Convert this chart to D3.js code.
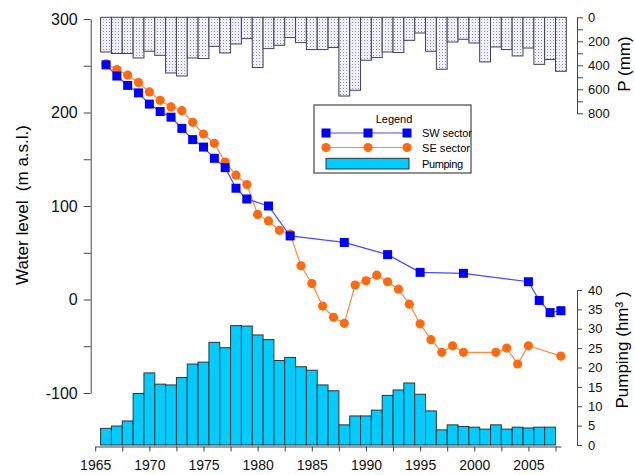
<!DOCTYPE html>
<html>
<head>
<meta charset="utf-8">
<script src="https://cdn.jsdelivr.net/npm/d3@7"></script>
<style>
  body { margin: 0; background: #fff; }
  svg { font-family: "Liberation Sans", Arial, sans-serif; }
  .axis path, .axis line { stroke: #444; }
  .axis text { fill: #111; }
</style>
</head>
<body>
<script>
// years for precipitation and pumping bars
const pYears = d3.range(1966, 2009);
const precip = [289, 302, 302, 339, 283, 317, 464, 489, 339, 344, 242, 297, 222, 178, 419,
  261, 233, 169, 211, 269, 269, 252, 656, 608, 358, 336, 289, 294, 192, 131, 283, 433, 206,
  183, 214, 372, 247, 269, 322, 256, 392, 352, 450];

const pumpYears = d3.range(1966, 2008);
const pumping = [4.3, 4.9, 6.2, 13.3, 18.6, 15.7, 15.5, 17.4, 20.9, 21.4, 26.5, 25.1, 30.8,
  30.7, 28.4, 27.2, 21.8, 22.6, 20.2, 19.3, 15.5, 14.0, 5.2, 7.5, 7.5, 9.0, 12.8, 14.2, 16.0,
  13.1, 8.8, 3.9, 5.2, 4.8, 4.6, 4.1, 5.2, 4.1, 4.6, 4.4, 4.6, 4.6];

// SW sector water level
const swYears = [1966, 1967, 1968, 1969, 1970, 1971, 1972, 1973, 1974, 1975, 1976, 1977,
  1978, 1979, 1981, 1983, 1988, 1992, 1995, 1999, 2005, 2006, 2007, 2008];
const swLevel = [251, 239, 229, 221, 209, 201, 195, 183, 171, 163, 151, 141, 119, 107.5,
  100, 68, 61, 48, 29, 28, 19, -1, -14, -12];

// SE sector water level
const seYears = [1966, 1967, 1968, 1969, 1970, 1971, 1972, 1973, 1974, 1975, 1976, 1977,
  1978, 1979, 1980, 1981, 1982, 1983, 1984, 1985, 1986, 1987, 1988, 1989, 1990, 1991, 1992,
  1993, 1994, 1995, 1996, 1997, 1998, 1999, 2002, 2003, 2004, 2005, 2008];
const seLevel = [252, 246, 240, 232, 222, 213, 206, 202, 189.5, 177, 167, 147, 133, 123, 91,
  84, 74, 70, 36, 17, -7, -19, -25.5, 15.5, 20, 26, 19, 11, -5, -26, -43, -56.5, -49.5,
  -56.5, -56.5, -52, -69, -49.5, -60.5];

const width = 635, height = 475;

const svg = d3.select("body").append("svg")
  .attr("width", width)
  .attr("height", height);

// dotted fill for the precipitation bars
const pat = svg.append("defs").append("pattern")
  .attr("id", "dots")
  .attr("patternUnits", "userSpaceOnUse")
  .attr("width", 3).attr("height", 3);
pat.append("rect").attr("width", 3).attr("height", 3).attr("fill", "#f1f1ff");
pat.append("rect").attr("x", 1).attr("y", 1).attr("width", 1).attr("height", 1).attr("fill", "#8f8fe8");

// scales
const x = d3.scaleLinear().domain([1965, 2008]).range([95.2, 560.9]);
const yW = d3.scaleLinear().domain([-100, 300]).range([393, 19]);
const yPump = d3.scaleLinear().domain([0, 40]).range([445, 290]);
const yP = d3.scaleLinear().domain([0, 800]).range([17.3, 113.3]);

// precipitation bars hanging from the top
svg.append("g").selectAll("rect")
  .data(precip)
  .join("rect")
  .attr("x", (d, i) => x(pYears[i] - 0.5))
  .attr("width", x(1) - x(0))
  .attr("y", yP(0))
  .attr("height", d => yP(d) - yP(0))
  .attr("fill", "url(#dots)")
  .attr("stroke", "#444")
  .attr("stroke-width", 1);

// pumping bars
svg.append("g").selectAll("rect")
  .data(pumping)
  .join("rect")
  .attr("x", (d, i) => x(pumpYears[i] - 0.5))
  .attr("width", x(1) - x(0))
  .attr("y", d => yPump(d))
  .attr("height", d => yPump(0) - yPump(d))
  .attr("fill", "#00ccff")
  .attr("stroke", "#333")
  .attr("stroke-width", 1);

// axes
svg.append("g")
  .attr("class", "axis")
  .attr("transform", "translate(90.7,0)")
  .call(d3.axisLeft(yW)
    .tickValues(d3.range(-100, 301, 50))
    .tickFormat(d => d % 100 === 0 ? d : "")
    .tickSize(7).tickSizeOuter(0).tickPadding(6))
  .call(g => g.selectAll("text").attr("font-size", 16));

svg.append("g")
  .attr("class", "axis")
  .attr("transform", "translate(0,446.5)")
  .call(d3.axisBottom(x)
    .tickValues(d3.range(1965, 2008, 2.5))
    .tickFormat(d => d % 5 === 0 ? d : "")
    .tickSize(5).tickSizeOuter(0).tickPadding(9))
  .call(g => g.selectAll("text").attr("font-size", 14));

svg.append("g")
  .attr("class", "axis")
  .attr("transform", "translate(577,0)")
  .call(d3.axisRight(yP)
    .tickValues(d3.range(0, 801, 100))
    .tickFormat(d => d % 200 === 0 ? d : "")
    .tickSize(6).tickSizeOuter(0).tickPadding(5))
  .call(g => g.selectAll("text").attr("font-size", 13));

svg.append("g")
  .attr("class", "axis")
  .attr("transform", "translate(577,0)")
  .call(d3.axisRight(yPump)
    .tickValues(d3.range(0, 41, 5))
    .tickSize(5).tickSizeOuter(0).tickPadding(6))
  .call(g => g.selectAll("text").attr("font-size", 13));

// water level lines
const line = d3.line().x(d => x(d[0])).y(d => yW(d[1]));
const seData = seYears.map((yr, i) => [yr, seLevel[i]]);
const swData = swYears.map((yr, i) => [yr, swLevel[i]]);

svg.append("path")
  .datum(seData)
  .attr("d", line)
  .attr("fill", "none")
  .attr("stroke", "#ff8a40")
  .attr("stroke-width", 1.2);
svg.append("g").selectAll("circle")
  .data(seData)
  .join("circle")
  .attr("cx", d => x(d[0]))
  .attr("cy", d => yW(d[1]))
  .attr("r", 4.6)
  .attr("fill", "#ff6a10");

svg.append("path")
  .datum(swData)
  .attr("d", line)
  .attr("fill", "none")
  .attr("stroke", "#4a4aff")
  .attr("stroke-width", 1.2);
svg.append("g").selectAll("rect")
  .data(swData)
  .join("rect")
  .attr("x", d => x(d[0]) - 4.5)
  .attr("y", d => yW(d[1]) - 4.5)
  .attr("width", 9).attr("height", 9)
  .attr("fill", "#0000ff");

// axis titles
svg.append("text")
  .attr("transform", "translate(28,205) rotate(-90)")
  .attr("text-anchor", "middle")
  .attr("font-size", 17)
  .text("Water level\u00a0 (m a.s.l.)");

svg.append("text")
  .attr("transform", "translate(630,64) rotate(-90)")
  .attr("text-anchor", "middle")
  .attr("font-size", 17)
  .text("P (mm)");

svg.append("text")
  .attr("transform", "translate(628,350) rotate(-90)")
  .attr("text-anchor", "middle")
  .attr("font-size", 17)
  .text("Pumping (hm³ )");

// legend
const lg = svg.append("g").attr("transform", "translate(314,105)");
lg.append("rect")
  .attr("width", 157).attr("height", 68)
  .attr("fill", "#fff")
  .attr("stroke", "#555")
  .attr("stroke-width", 1.3);
lg.append("text")
  .attr("x", 80).attr("y", 18)
  .attr("text-anchor", "middle")
  .attr("font-size", 11)
  .text("Legend");

const legendNames = ["SW sector", "SE sector", "Pumping"];
const ly = [28, 42.5, 58.5];
const mx = [12, 54, 93];

lg.append("line").attr("x1", 12).attr("x2", 93).attr("y1", ly[0]).attr("y2", ly[0])
  .attr("stroke", "#4a4aff").attr("stroke-width", 1.2);
lg.selectAll(".sq").data(mx).join("rect")
  .attr("x", d => d - 4.5).attr("y", ly[0] - 4.5)
  .attr("width", 9).attr("height", 9).attr("fill", "#0000ff");

lg.append("line").attr("x1", 12).attr("x2", 93).attr("y1", ly[1]).attr("y2", ly[1])
  .attr("stroke", "#ff8a40").attr("stroke-width", 1.2);
lg.selectAll(".ci").data(mx).join("circle")
  .attr("cx", d => d).attr("cy", ly[1]).attr("r", 4.6).attr("fill", "#ff6a10");

lg.append("rect")
  .attr("x", 12).attr("y", 53.3).attr("width", 83).attr("height", 10.7)
  .attr("fill", "#00ccff").attr("stroke", "#333");

lg.selectAll(".lt").data(legendNames).join("text")
  .attr("x", 108)
  .attr("y", (d, i) => ly[i] + 4)
  .attr("font-size", 11)
  .attr("textLength", (d, i) => [50, 48, 41][i])
  .text(d => d);
</script>
</body>
</html>
